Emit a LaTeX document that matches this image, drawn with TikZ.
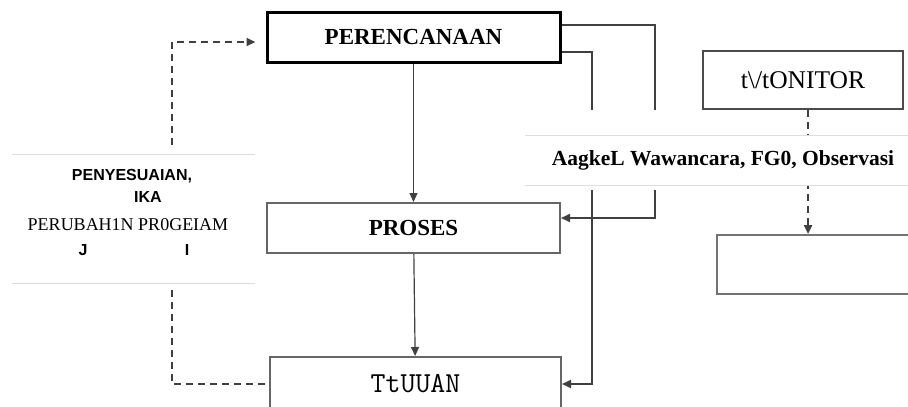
\documentclass[tikz,border=0pt]{standalone}
\usepackage{fontspec}
\setmainfont{Liberation Serif}
\setsansfont{Liberation Sans}
\usetikzlibrary{arrows.meta}

\tikzset{
  kotak/.style={draw=black!60,line width=2pt,minimum height=50pt,inner sep=0pt},
  garis/.style={draw=black!75,line width=1.6pt},
  putus/.style={draw=black!75,line width=2.3pt,dash pattern=on 7pt off 5pt},
  pita/.style={draw=black!13,line width=0.8pt},
  judul/.style={font=\fontsize{23}{26}\selectfont\bfseries},
  kecil/.style={font=\fontsize{16}{18}\selectfont\sffamily\bfseries}
}

\begin{document}
\begin{tikzpicture}[x=1pt,y=-1pt,>={Triangle[length=9pt,width=8pt]}]
        \clip (0,0) rectangle (908,407);
        %% Boxes
        \node[kotak,draw=black,line width=3pt,minimum width=293pt,judul] (plan) at (413.5,37) {PERENCANAAN};
        \node[kotak,minimum width=293pt,judul] (proses) at (413.5,228) {PROSES};
        \node[kotak,minimum width=291pt,minimum height=54pt,font=\fontsize{29}{32}\selectfont\ttfamily] (tujuan) at (415.5,384) {TtUUAN};
        \node[kotak,draw=black!70,minimum width=200pt,minimum height=58pt,font=\fontsize{25.5}{28}\selectfont] (monitor) at (803,80) {t\textbackslash/tONITOR};
        \node[kotak,draw=black!55,minimum width=198pt,minimum height=59pt] (evaluasi) at (816,264.5) {};
        %% Main flow
        \draw[garis,->,line width=1.2pt] (plan) -- (proses);
        \draw[garis,->,line width=1.2pt] (proses) -- (tujuan);
        %% Feedback lines from the plan
        \coordinate (p1) at (655,110);
        \coordinate (p2) at (655,190);
        \coordinate (q1) at (592,110);
        \coordinate (q2) at (592,190);
        \draw[garis] ([yshift=12pt]plan.east) -| (p1);
        \draw[garis,->] (p2) |- ([yshift=10pt]proses.east);
        \draw[garis] ([yshift=-15pt]plan.east) -| (q1);
        \draw[garis,->] (q2) |- (tujuan.east);
        %% Monitor line
        \draw[putus,->] ([xshift=5pt]monitor.south) -- ([xshift=5pt]monitor.south |- evaluasi.north);
        %% Method band
        \node[fill=white,minimum width=396pt,minimum height=49pt,inner sep=0pt,font=\fontsize{21.5}{24}\selectfont\bfseries] (metode) at (723,160.5) {AagkeL Wawancara, FG0, Observasi};
        \draw[pita] (metode.north west) -- (metode.north east);
        \draw[pita] (metode.south west) -- (metode.south east);
        %% Adjustment band
        \node[minimum width=243pt,minimum height=128pt,inner sep=0pt] (sesuai) at (133.5,219) {};
        \draw[pita] (sesuai.north west) -- (sesuai.north east);
        \draw[pita] (sesuai.south west) -- (sesuai.south east);
        \node[kecil] (t1) at (132,176) {PENYESUAIAN,};
        \node[kecil] (t2) at (148,197) {IKA};
        \node[font=\fontsize{18}{20}\selectfont] (t3) at (128,225) {PERUBAH1N PR0GEIAM};
        \node[kecil] (t4) at (83,250) {J};
        \node[kecil] (t5) at (187,250) {I};
        %% Dashed feedback
        \coordinate (s1) at (172,145);
        \coordinate (s2) at (172,290);
        \draw[putus,->,shorten >=10pt] (s1) |- ([yshift=-5pt]plan.west);
        \draw[putus] (s2) |- (tujuan.west);
    \end{tikzpicture}
\end{document}
